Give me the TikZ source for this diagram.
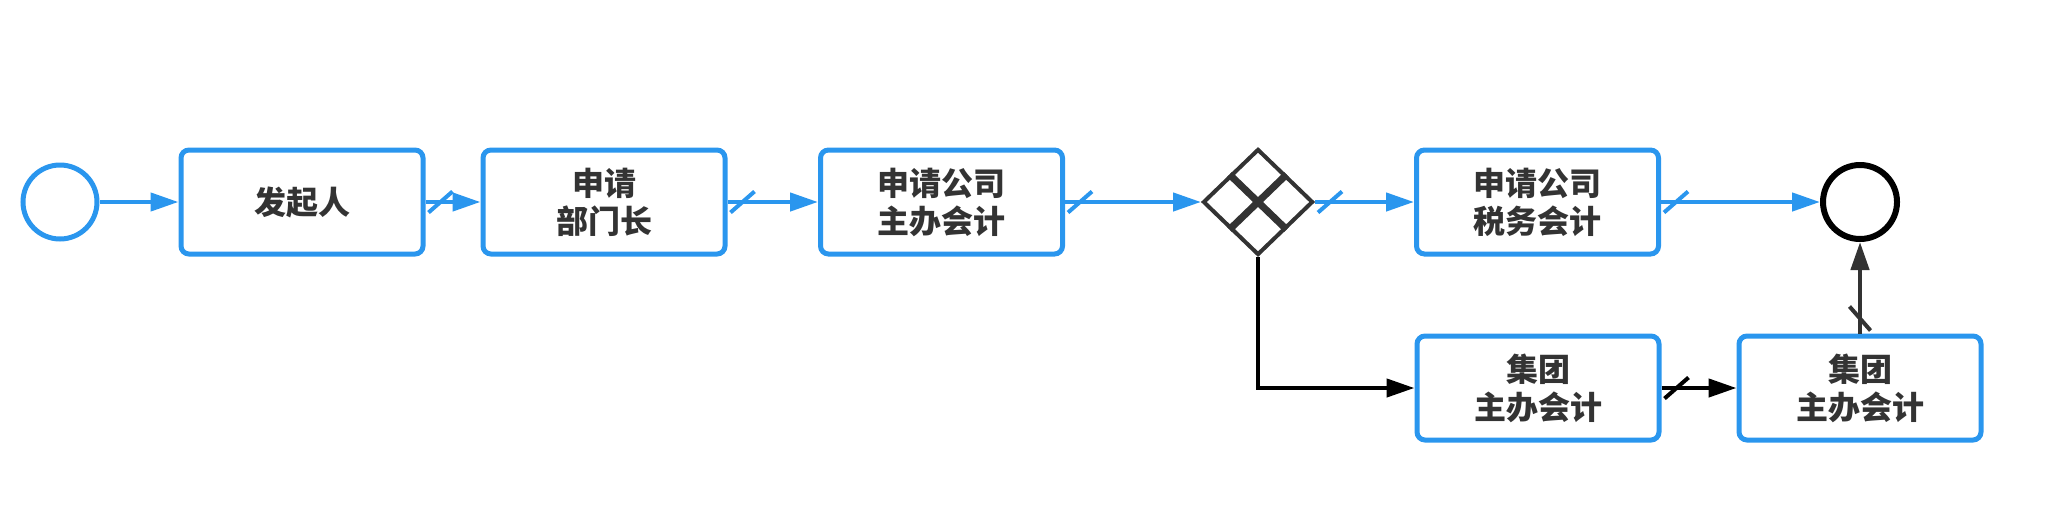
\documentclass[tikz,border=0pt]{standalone}
\usepackage{fontspec}
\newfontfamily\cjk{Noto Sans CJK SC}
\usetikzlibrary{arrows.meta,shapes.geometric,calc,decorations.markings}
\definecolor{flowblue}{RGB}{42,150,238}
\definecolor{inkgray}{RGB}{51,51,51}
\tikzset{
    task/.style={draw=flowblue, line width=2.5pt, rounded corners=4pt, fill=white,
        minimum width=121pt, minimum height=52pt, align=center, text=inkgray,
        font=\cjk\bfseries\fontsize{16}{19}\selectfont},
    event/.style={circle, line width=2.5pt, minimum size=37pt, inner sep=0pt},
    flow/.style={draw=#1, line width=2.2pt, -{Triangle[length=14pt,width=9pt]}},
    cut/.style={postaction={decorate}, decoration={markings,
        mark=at position 7.5pt with {\draw[-, #1, line width=2pt] (-6pt,-5.25pt) -- (6pt,5.25pt);}}}
}
\begin{document}
\begin{tikzpicture}[x=0.5pt, y=-0.5pt]
    \useasboundingbox (0,0) rectangle (2059,520);
    \node[event, draw=flowblue] (start) at (60,202) {};
    \node[task] (ask) at (302,202) {发起人};
    \node[task] (head) at (604,202) {申请\\部门长};
    \node[task] (acct) at (941.5,202) {申请公司\\主办会计};
    \node[diamond, draw=inkgray, line width=2pt, minimum width=55pt, minimum height=53pt, inner sep=0pt] (gw) at (1258,202) {};
    \node[task] (tax) at (1537.5,202) {申请公司\\税务会计};
    \node[event, draw=black, line width=3pt] (stop) at (1860,202) {};
    \node[task] (grp) at (1538,388) {集团\\主办会计};
    \node[task] (grp2) at (1860,388) {集团\\主办会计};
    \draw[inkgray, line width=3.5pt] ($(gw.north)!.5!(gw.west)$) -- ($(gw.south)!.5!(gw.east)$);
    \draw[inkgray, line width=3.5pt] ($(gw.north)!.5!(gw.east)$) -- ($(gw.south)!.5!(gw.west)$);
    \draw[flow=flowblue] (start) -- (ask);
    \draw[flow=flowblue, cut=flowblue] (ask) -- (head);
    \draw[flow=flowblue, cut=flowblue] (head) -- (acct);
    \draw[flow=flowblue, cut=flowblue] (acct) -- (gw);
    \draw[flow=flowblue, cut=flowblue] (gw) -- (tax);
    \draw[flow=flowblue, cut=flowblue] (tax) -- (stop);
    \draw[flow=black] (gw.south) |- (grp.west);
    \draw[flow=black, cut=black] (grp) -- (grp2);
    \draw[flow=inkgray, cut=inkgray] (grp2) -- (stop);
\end{tikzpicture}
\end{document}
